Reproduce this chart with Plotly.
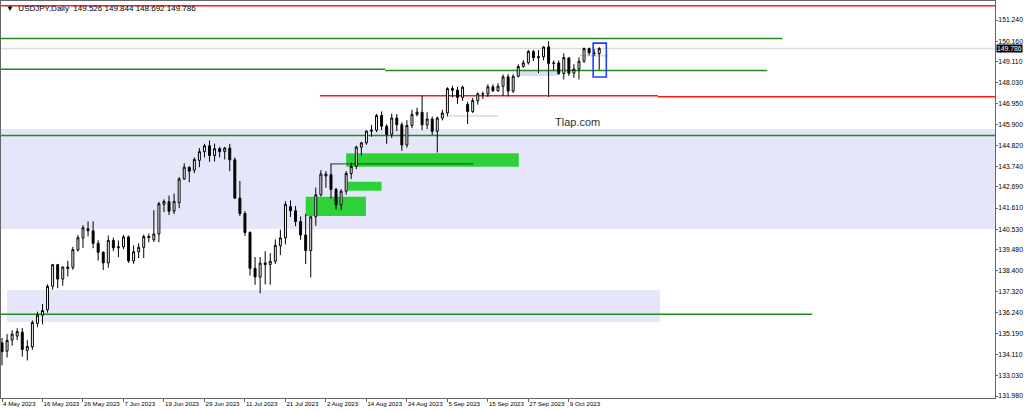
import pandas as pd
import plotly.graph_objects as go

# ---------------- data ----------------
dates = pd.bdate_range("2023-05-04", "2023-10-17")
date_labels = [f"{d.day} {d.strftime('%b %Y')}" for d in dates]

opens = [134.70, 134.28, 134.85, 135.05, 135.25, 134.32, 134.50, 135.70, 136.12, 136.40,
         137.60, 138.71, 137.97, 138.59, 138.57, 139.46, 140.08, 140.55, 140.45, 139.80,
         139.34, 138.80, 139.95, 139.57, 139.62, 140.13, 138.90, 139.37, 139.60, 140.15,
         139.98, 140.28, 141.80, 141.93, 141.45, 141.88, 143.10, 143.70, 143.55, 144.05,
         144.50, 144.80, 144.30, 144.65, 144.50, 144.68, 144.08, 142.12, 141.33, 140.36,
         138.52, 138.08, 138.80, 138.72, 138.88, 139.68, 140.08, 141.68, 141.47, 140.92,
         140.23, 139.43, 141.16, 142.29, 143.25, 143.32, 142.56, 141.77, 142.47, 143.38,
         143.75, 144.73, 144.95, 145.55, 145.60, 146.35, 145.80, 145.38, 146.22, 145.88,
         144.84, 145.84, 146.41, 146.52, 145.87, 146.17, 145.54, 146.22, 146.48, 147.73,
         147.65, 147.28, 146.92, 146.56, 147.10, 147.46, 147.45, 147.82, 147.62, 147.85,
         148.33, 147.60, 148.36, 148.86, 149.05, 149.63, 149.31, 149.36, 149.86, 149.02,
         149.04, 148.50, 149.30, 148.52, 148.73, 149.13, 149.78, 149.56, 149.526]
highs = [134.95, 135.15, 135.35, 135.45, 135.47, 134.84, 135.85, 136.30, 136.69, 137.70,
         138.75, 138.75, 138.60, 138.91, 139.62, 140.23, 140.73, 140.92, 140.93, 139.96,
         139.40, 140.20, 140.10, 139.95, 140.24, 140.20, 139.70, 139.80, 140.25, 140.30,
         141.50, 141.93, 142.05, 142.25, 142.35, 143.20, 143.90, 143.75, 144.20, 144.68,
         144.90, 145.07, 144.91, 144.75, 144.75, 144.90, 144.20, 143.00, 141.45, 140.41,
         139.10, 139.10, 139.40, 139.30, 140.00, 140.50, 141.96, 142.00, 141.72, 141.18,
         141.32, 141.20, 142.66, 143.55, 143.50, 143.89, 142.65, 142.58, 143.50, 143.93,
         144.80, 145.00, 145.58, 145.86, 146.43, 146.56, 145.90, 146.45, 146.42, 146.00,
         146.11, 146.64, 146.75, 147.37, 146.52, 146.30, 146.29, 146.64, 147.80, 147.87,
         147.82, 147.87, 147.05, 147.25, 147.53, 147.57, 147.95, 147.95, 148.00, 148.45,
         148.47, 148.46, 148.97, 149.19, 149.71, 149.71, 149.70, 149.90, 150.16, 149.17,
         149.17, 149.53, 149.35, 148.98, 149.33, 149.83, 149.83, 149.75, 149.844]
lows = [133.55, 133.95, 134.55, 134.85, 134.00, 133.80, 134.35, 135.50, 135.65, 136.25,
        137.43, 137.50, 137.63, 138.11, 138.44, 139.38, 139.57, 140.16, 139.55, 138.92,
        138.43, 138.55, 139.40, 139.10, 139.50, 138.80, 138.75, 139.05, 139.05, 139.85,
        139.87, 139.86, 141.40, 141.25, 141.30, 141.60, 143.05, 142.93, 143.40, 143.70,
        144.20, 143.98, 144.00, 144.20, 144.10, 143.50, 142.07, 141.20, 140.18, 138.15,
        137.68, 137.24, 137.70, 137.68, 138.75, 139.20, 139.75, 141.15, 140.68, 139.98,
        138.74, 138.05, 140.70, 142.20, 142.65, 142.10, 141.54, 141.50, 142.30, 143.10,
        143.60, 144.30, 144.85, 145.26, 145.50, 145.60, 144.90, 145.20, 145.55, 144.54,
        144.70, 145.70, 146.30, 145.60, 145.65, 145.35, 144.45, 146.10, 146.30, 147.28,
        146.95, 147.10, 145.91, 146.48, 146.91, 147.20, 147.30, 147.56, 147.56, 147.35,
        147.33, 147.50, 148.30, 148.80, 148.96, 149.14, 148.52, 149.18, 147.30, 148.66,
        148.43, 148.20, 148.37, 148.28, 148.20, 149.05, 149.43, 149.39, 148.692]
closes = [134.25, 134.83, 135.15, 135.28, 134.36, 134.52, 135.75, 136.12, 136.36, 137.60,
          138.71, 137.97, 138.59, 138.52, 139.48, 140.09, 140.60, 140.45, 139.80, 139.34,
          138.80, 139.95, 139.57, 139.62, 140.13, 138.90, 139.37, 139.60, 140.15, 140.10,
          140.28, 141.83, 141.95, 141.45, 141.95, 143.10, 143.70, 143.50, 144.10, 144.50,
          144.80, 144.30, 144.65, 144.50, 144.68, 144.08, 142.12, 141.33, 140.36, 138.52,
          138.08, 138.79, 138.72, 138.88, 139.70, 140.08, 141.80, 141.47, 140.92, 140.23,
          139.43, 141.16, 142.29, 143.35, 143.35, 142.56, 141.77, 142.47, 143.38, 143.75,
          144.73, 144.95, 145.55, 145.60, 146.35, 145.80, 145.38, 146.22, 145.88, 144.84,
          145.84, 146.41, 146.52, 145.87, 146.17, 145.54, 146.22, 146.48, 147.73, 147.65,
          147.28, 147.80, 146.56, 147.12, 147.46, 147.45, 147.82, 147.62, 147.85, 148.33,
          147.60, 148.36, 148.86, 149.05, 149.63, 149.31, 149.36, 149.86, 149.02, 149.04,
          148.50, 149.32, 148.52, 148.73, 149.13, 149.78, 149.56, 149.53, 149.786]

# x-axis label dates (every 8 bars) and y-axis price labels
x_label_dates = ["2023-05-04", "2023-05-16", "2023-05-26", "2023-06-07", "2023-06-19",
                 "2023-06-29", "2023-07-11", "2023-07-21", "2023-08-02", "2023-08-14",
                 "2023-08-24", "2023-09-05", "2023-09-15", "2023-09-27", "2023-10-09"]
y_labels = [151.240, 150.160, 149.110, 148.030, 146.950, 145.900, 144.820, 143.740,
            142.690, 141.610, 140.530, 139.480, 138.400, 137.320, 136.240, 135.190,
            134.110, 133.030, 131.980]

# drawn levels / zones (prices)
red_top = 151.97
green_upper = 150.29
green_mid_a = 148.72
green_mid_b = 148.66
red_mid_a = 147.36
red_mid_b = 147.31
green_main = 145.325
green_low = 136.17
zone_big = (140.535, 145.66)
zone_low = (135.77, 137.41)
dark_level = 143.87

# ---------------- figure ----------------
n = len(dates)
xs = list(range(n))
X0, X1 = -0.2, 196.2
Y0, Y1 = 131.878, 152.216
FONT = "Liberation Sans, Arial, sans-serif"

def bar_at(date_str):
    return list(dates).index(pd.Timestamp(date_str))

fig = go.Figure()
fig.add_trace(go.Candlestick(
    x=xs, open=opens, high=highs, low=lows, close=closes,
    increasing=dict(line=dict(color="black", width=1), fillcolor="white"),
    decreasing=dict(line=dict(color="black", width=1), fillcolor="black"),
    whiskerwidth=0, showlegend=False, hoverinfo="skip",
))

shapes = []
lav = "#E6E6FA"
# zones
shapes.append(dict(type="rect", xref="paper", x0=0, x1=1, y0=zone_big[0], y1=zone_big[1],
                   fillcolor=lav, line_width=0, layer="below"))
shapes.append(dict(type="rect", x0=1.0, x1=130.0, y0=zone_low[0], y1=zone_low[1],
                   fillcolor=lav, line_width=0, layer="below"))
# small light zones
shapes.append(dict(type="rect", x0=88.0, x1=98.0, y0=146.29, y1=146.37,
                   fillcolor="#DCDCF6", line_width=0, layer="below"))
shapes.append(dict(type="rect", x0=102.2, x1=109.9, y0=148.37, y1=148.70,
                   fillcolor="#DCDCF6", line_width=0, layer="below"))
shapes.append(dict(type="line", x0=114.2, x1=119.8, y0=149.42, y1=149.42,
                   line=dict(color="#DADADA", width=2), layer="below"))
# green demand rectangles
lime = "#2ED139"
shapes.append(dict(type="rect", x0=68.0, x1=102.1, y0=143.73, y1=144.41,
                   fillcolor=lime, line_width=0, layer="below"))
shapes.append(dict(type="rect", x0=68.3, x1=75.0, y0=142.50, y1=142.96,
                   fillcolor=lime, line_width=0, layer="below"))
shapes.append(dict(type="rect", x0=60.0, x1=71.9, y0=141.20, y1=142.19,
                   fillcolor=lime, line_width=0, layer="below"))
# current price line
shapes.append(dict(type="line", xref="paper", x0=0, x1=1, y0=closes[-1], y1=closes[-1],
                   line=dict(color="#DCDCDC", width=1.5), layer="below"))
# horizontal levels
g = "#1E8C1E"
r = "#FF1A1A"
shapes += [
    dict(type="line", xref="paper", x0=0, x1=1, y0=red_top, y1=red_top, line=dict(color=r, width=1.5), layer="below"),
    dict(type="line", x0=X0, x1=154.2, y0=green_upper, y1=green_upper, line=dict(color=g, width=1.5), layer="below"),
    dict(type="line", x0=X0, x1=75.7, y0=green_mid_a, y1=green_mid_a, line=dict(color=g, width=1.5), layer="below"),
    dict(type="line", x0=75.7, x1=151.2, y0=green_mid_b, y1=green_mid_b, line=dict(color=g, width=1.5), layer="below"),
    dict(type="line", x0=62.8, x1=129.6, y0=red_mid_a, y1=red_mid_a, line=dict(color=r, width=1.5), layer="below"),
    dict(type="line", x0=129.6, x1=X1, y0=red_mid_b, y1=red_mid_b, line=dict(color=r, width=1.5), layer="below"),
    dict(type="line", xref="paper", x0=0, x1=1, y0=green_main, y1=green_main, line=dict(color=g, width=1.5), layer="below"),
    dict(type="line", x0=X0, x1=160.1, y0=green_low, y1=green_low, line=dict(color=g, width=1.5), layer="below"),
    dict(type="line", x0=65.0, x1=93.1, y0=dark_level, y1=dark_level, line=dict(color="#0B4F0B", width=1), layer="below"),
]
# blue highlight box around last candles
shapes.append(dict(type="rect", x0=116.8, x1=119.4, y0=148.32, y1=150.06,
                   line=dict(color="#1F3FFF", width=1.6), fillcolor="rgba(0,0,0,0)", layer="above"))

last = n - 1
title_txt = (f"▼  USDJPY,Daily  {opens[last]:.3f} {highs[last]:.3f} "
             f"{lows[last]:.3f} {closes[last]:.3f}")

annotations = [
    dict(text=title_txt, xref="paper", yref="paper", x=0, y=1, xanchor="left", yanchor="top",
         xshift=3, yshift=-1, showarrow=False, font=dict(family=FONT, size=8, color="black")),
    dict(text="Tlap.com", x=108.9, y=146.02, xanchor="left", yanchor="middle", showarrow=False,
         font=dict(family=FONT, size=11, color="#333333")),
    dict(text=f"{closes[last]:.3f}", xref="paper", x=1, y=closes[last], xanchor="left",
         yanchor="middle", xshift=1, showarrow=False, bgcolor="black", borderpad=0,
         font=dict(family=FONT, size=6.8, color="white")),
]

tick_idx = [bar_at(d) for d in x_label_dates]
fig.update_layout(
    width=1024, height=411,
    margin=dict(l=1, r=29, t=1, b=13, autoexpand=False),
    paper_bgcolor="white", plot_bgcolor="white",
    shapes=shapes, annotations=annotations,
    boxgap=0.45,
    xaxis=dict(range=[X0, X1], rangeslider=dict(visible=False), showgrid=False, zeroline=False,
               tickmode="array", tickvals=tick_idx, ticktext=[date_labels[i] for i in tick_idx],
               ticks="outside", ticklen=3, tickcolor="#666666", ticklabelposition="outside right",
               tickangle=0, automargin=False,
               tickfont=dict(family=FONT, size=6.2, color="black"),
               showline=True, linecolor="#666666", linewidth=1, mirror=True, fixedrange=True),
    yaxis=dict(range=[Y0, Y1], side="right", showgrid=False, zeroline=False,
               tickmode="array", tickvals=y_labels, ticktext=[f"{v:.3f}" for v in y_labels],
               ticks="outside", ticklen=2, tickcolor="#666666", automargin=False,
               ticklabelstandoff=-1,
               tickfont=dict(family=FONT, size=6.8, color="black"),
               showline=True, linecolor="#666666", linewidth=1, mirror=True, fixedrange=True),
)

fig.write_html(
    "out.html",
    config={"displayModeBar": False},
    post_script="document.body.style.margin='0';document.body.style.overflow='hidden';",
)
